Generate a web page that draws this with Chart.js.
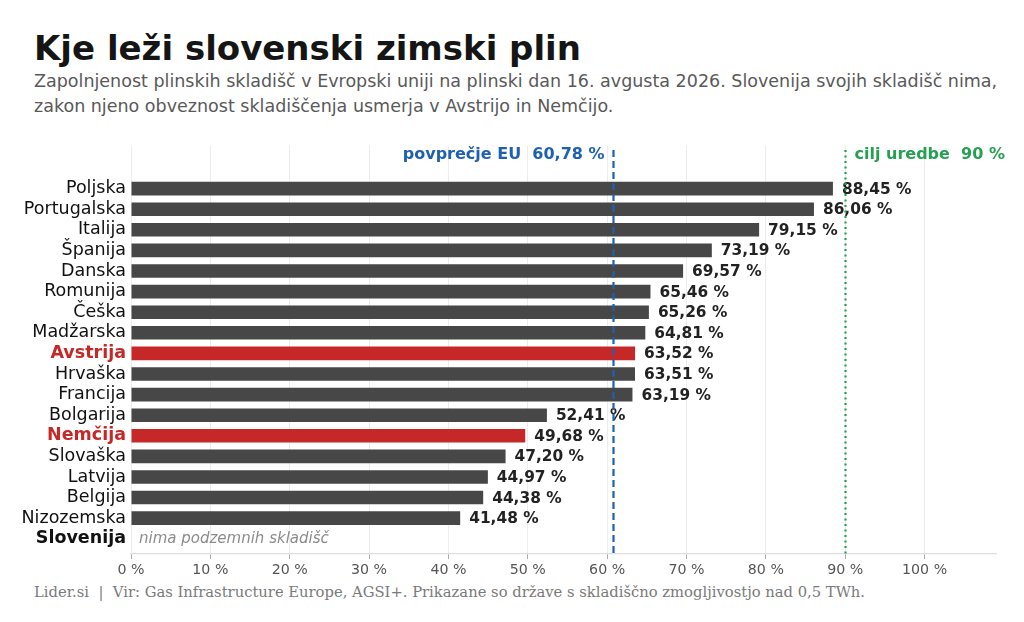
<!DOCTYPE html>
<html>
<head>
<meta charset="utf-8">
<script src="https://cdn.jsdelivr.net/npm/chart.js@4"></script>
<style>
  html, body { margin: 0; padding: 0; background: #fff; }
  body { width: 1024px; height: 622px; position: relative; overflow: hidden; font-family: 'DejaVu Sans', sans-serif; }
  #title { position: absolute; left: 34px; top: 28px; font-size: 34px; font-weight: bold; color: #151515; white-space: nowrap; }
  #sub { position: absolute; left: 34px; top: 69px; font-size: 17.5px; line-height: 25px; color: #595959; white-space: nowrap; }
  #foot { position: absolute; left: 34px; top: 583px; font-family: 'DejaVu Serif', serif; font-size: 14.75px; color: #7a7a7a; white-space: nowrap; }
  canvas { position: absolute; left: 0; top: 0; }
</style>
</head>
<body>
<div id="title">Kje leži slovenski zimski plin</div>
<div id="sub">Zapolnjenost plinskih skladišč v Evropski uniji na plinski dan 16. avgusta 2026. Slovenija svojih skladišč nima,<br>zakon njeno obveznost skladiščenja usmerja v Avstrijo in Nemčijo.</div>
<div id="foot">Lider.si &nbsp;|&nbsp; Vir: Gas Infrastructure Europe, AGSI+. Prikazane so države s skladiščno zmogljivostjo nad 0,5 TWh.</div>
<canvas id="c" width="1024" height="622"></canvas>
<script>
// Data
const countries = ['Poljska', 'Portugalska', 'Italija', 'Španija', 'Danska', 'Romunija', 'Češka', 'Madžarska',
  'Avstrija', 'Hrvaška', 'Francija', 'Bolgarija', 'Nemčija', 'Slovaška', 'Latvija', 'Belgija', 'Nizozemska', 'Slovenija'];
const fill = [88.45, 86.06, 79.15, 73.19, 69.57, 65.46, 65.26, 64.81,
  63.52, 63.51, 63.19, 52.41, 49.68, 47.20, 44.97, 44.38, 41.48, null];
const xTicks = [0, 10, 20, 30, 40, 50, 60, 70, 80, 90, 100];
const highlight = ['Avstrija', 'Nemčija'];
const euAverage = 60.78;
const target = 90;

const DARK = '#474747';
const RED = '#c62828';
const BLUE = '#1f61b0';
const GREEN = '#27a052';

const fmt = v => v.toFixed(2).replace('.', ',') + ' %';

const points = [];
fill.forEach((v, i) => { if (v !== null) points.push({ x: v, y: i }); });

const overlay = {
  id: 'overlay',
  afterDatasetsDraw(chart) {
    const { ctx, chartArea, scales: { x, y } } = chart;
    ctx.save();
    // value labels
    ctx.font = 'bold 15.4px "DejaVu Sans"';
    ctx.fillStyle = '#222';
    ctx.textBaseline = 'middle';
    ctx.textAlign = 'left';
    points.forEach(p => {
      ctx.fillText(fmt(p.x), x.getPixelForValue(p.x) + 9, y.getPixelForValue(p.y) + 1);
    });
    // Slovenija note
    const si = countries.indexOf('Slovenija');
    ctx.font = 'italic 15px "DejaVu Sans"';
    ctx.fillStyle = '#8c8c8c';
    ctx.fillText('nima podzemnih skladišč', chartArea.left + 8, y.getPixelForValue(si));

    // reference lines
    const top = chartArea.top + 4;
    const xa = Math.round(x.getPixelForValue(euAverage)) + 0.5;
    ctx.lineWidth = 2.2;
    ctx.strokeStyle = BLUE;
    ctx.setLineDash([7, 4]);
    ctx.beginPath(); ctx.moveTo(xa, top); ctx.lineTo(xa, chartArea.bottom); ctx.stroke();
    const xt = Math.round(x.getPixelForValue(target)) + 0.5;
    ctx.strokeStyle = GREEN;
    ctx.setLineDash([2, 3.5]);
    ctx.beginPath(); ctx.moveTo(xt, top); ctx.lineTo(xt, chartArea.bottom); ctx.stroke();
    ctx.setLineDash([]);

    ctx.font = 'bold 16px "DejaVu Sans"';
    ctx.fillStyle = BLUE;
    ctx.textAlign = 'right';
    ctx.fillText('povprečje EU  ' + fmt(euAverage), xa - 9, 155);
    ctx.fillStyle = GREEN;
    ctx.textAlign = 'left';
    ctx.fillText('cilj uredbe  ' + target + ' %', xt + 9, 155);
    ctx.restore();
  }
};

new Chart(document.getElementById('c'), {
  type: 'bar',
  data: {
    datasets: [{
      data: points,
      backgroundColor: points.map(p => highlight.includes(countries[p.y]) ? RED : DARK),
      borderWidth: 0,
      barPercentage: 0.66,
      categoryPercentage: 1
    }]
  },
  options: {
    indexAxis: 'y',
    responsive: false,
    animation: false,
    layout: { padding: { top: 146, right: 28, left: 0, bottom: 0 } },
    plugins: { legend: { display: false }, tooltip: { enabled: false } },
    scales: {
      x: {
        type: 'linear',
        min: 0,
        max: 109,
        afterFit: s => { s.height = 68; },
        afterBuildTicks: s => { s.ticks = xTicks.map(v => ({ value: v })); },
        grid: { color: '#ececec', lineWidth: 1, tickLength: 5, tickColor: '#aaa' },
        border: { color: '#dedede', width: 1.2 },
        ticks: {
          color: '#555',
          padding: 3,
          font: { family: 'DejaVu Sans', size: 14.2 },
          callback: v => v + ' %'
        }
      },
      y: {
        type: 'linear',
        reverse: true,
        offset: false,
        min: -2.07,
        max: 17.74,
        afterFit: s => { s.width = 131; },
        afterBuildTicks: s => { s.ticks = countries.map((_, i) => ({ value: i })); },
        grid: { display: false, drawTicks: false },
        border: { display: false },
        ticks: {
          autoSkip: false,
          padding: 5,
          callback: v => countries[v],
          color: c => {
            const n = countries[c.index];
            return highlight.includes(n) ? RED : '#111';
          },
          font: c => {
            const n = countries[c.index];
            const bold = highlight.includes(n) || n === 'Slovenija';
            return { family: 'DejaVu Sans', size: 17.5, weight: bold ? 'bold' : 'normal' };
          }
        }
      }
    }
  },
  plugins: [overlay]
});
</script>
</body>
</html>
